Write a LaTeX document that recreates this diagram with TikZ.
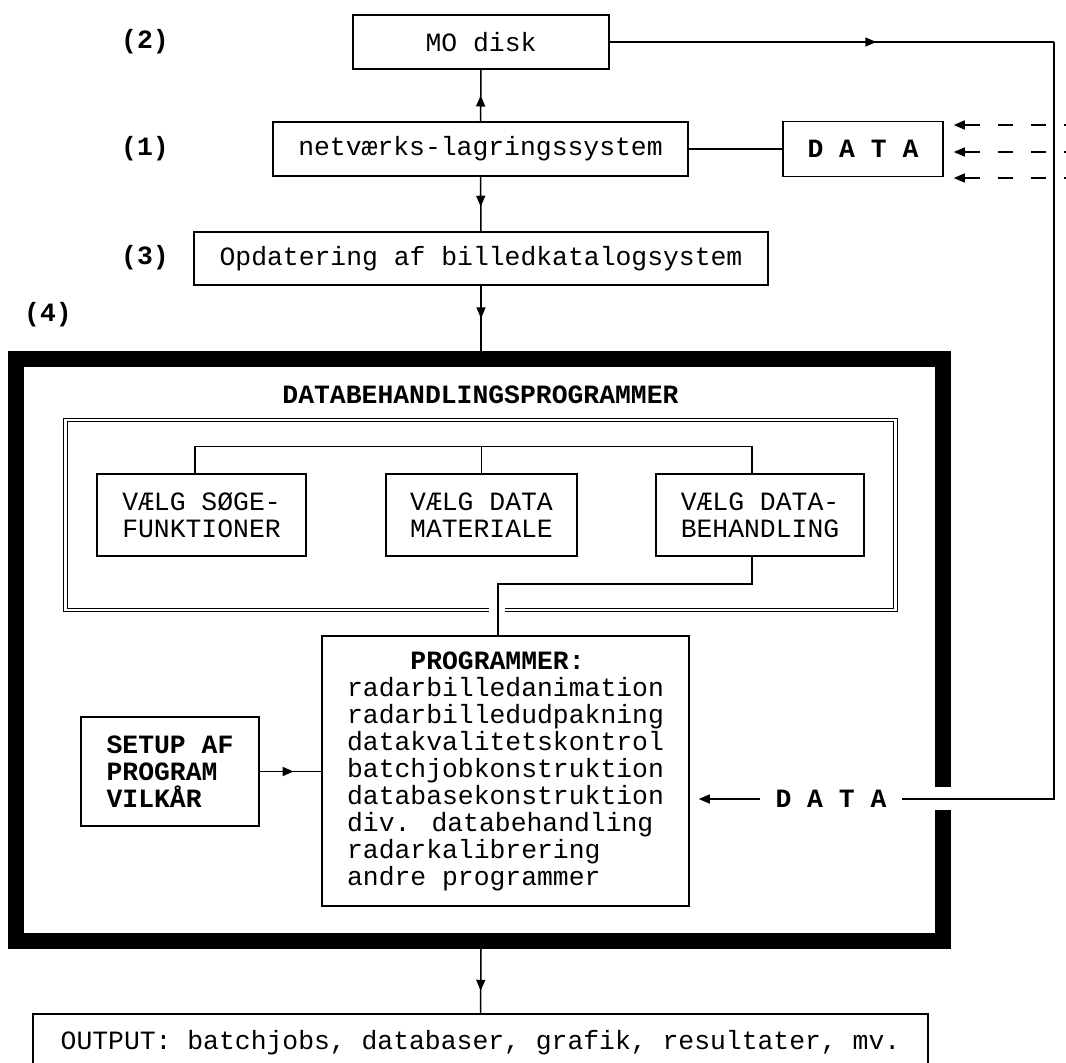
\documentclass[tikz,border=0pt]{standalone}
\usepackage{fontspec}
\setmainfont{Liberation Mono}
\usetikzlibrary{arrows.meta,decorations.markings}

\tikzset{
  txt/.style={font=\fontsize{26.4}{27}\selectfont},
  bftxt/.style={font=\fontsize{26.4}{27}\selectfont\bfseries},
  box/.style={draw, inner sep=0pt, align=center},
  tip/.style={-{Triangle[length=11pt,width=9pt]}},
  midarrow/.style={postaction={decorate}, decoration={markings, mark=at position #1 with {\arrow{Triangle[length=11pt,width=9pt]}}}},
  midarrow/.default=0.5,
  dashin/.style={tip, dash pattern=on 15pt off 18pt, shorten >=10pt}
}

\begin{document}
\begin{tikzpicture}[x=1pt,y=-1pt,line width=1.5pt,every node/.style={txt}]
\useasboundingbox (0,0) rectangle (1066,1063);
\node[bftxt] (l2) at (145,42) {(2)};
\node[bftxt] (l1) at (145,149) {(1)};
\node[bftxt] (l3) at (145,258) {(3)};
\node[bftxt] (l4) at (48,315) {(4)};
\node[box, minimum width=256pt, minimum height=54pt] (mo) at (481,42) {MO disk};
\node[box, minimum width=415pt, minimum height=54pt] (netv) at (480.5,149) {netværks-lagringssystem};
\node[box, bftxt, minimum width=160pt, minimum height=55pt] (dat) at (863,149) {D A T A};
\node[box, minimum width=574pt, minimum height=53pt] (opd) at (481,258.5) {Opdatering af billedkatalogsystem};
\coordinate (ftop) at (481,351);
\coordinate (fbot) at (481,949);
\coordinate (rc) at (1054,42);
\coordinate (in1) at (1079,125);
\coordinate (in2) at (1079,152);
\coordinate (in3) at (1079,178);
\draw[line width=16pt, line join=miter] (943,787) -- (943,359) -- (16,359) -- (16,941) -- (943,941) -- (943,810);
\node[bftxt] (titel) at (480.5,395) {DATABEHANDLINGSPROGRAMMER};
\node[draw, double, double distance=2.5pt, line width=1pt, minimum width=830pt, minimum height=190pt] (grp) at (480.5,515) {};
\fill[white] (489,604) rectangle (505,616);
\node[box, minimum width=209pt, minimum height=82pt] (soeg) at (201.5,515) {VÆLG SØGE-\\FUNKTIONER};
\node[box, minimum width=191pt, minimum height=82pt] (mat) at (481.5,515) {VÆLG DATA\\MATERIALE};
\node[box, minimum width=208pt, minimum height=82pt] (beh) at (760,515) {VÆLG DATA-\\BEHANDLING};
\node[box, align=left, minimum width=367pt, minimum height=270pt] (prog) at (505.5,771) {\hspace*{2.4em}\textbf{PROGRAMMER:}\\radarbilledanimation\\radarbilledudpakning\\datakvalitetskontrol\\batchjobkonstruktion\\databasekonstruktion\\div. databehandling\\radarkalibrering\\andre programmer};
\node[box, bftxt, align=left, minimum width=178pt, minimum height=109pt] (setup) at (170,771.5) {SETUP AF\\PROGRAM\\VILKÅR};
\node[bftxt, inner xsep=15pt, inner ysep=2pt] (datlbl) at (831,799) {D A T A};
\node[box, minimum width=895pt, minimum height=58pt] (out) at (480.5,1043) {OUTPUT: batchjobs, databaser, grafik, resultater, mv.};
\draw[midarrow] (netv.north) -- (mo.south);
\draw[midarrow=0.55] (netv.south) -- (opd.north);
\draw[midarrow=0.5] (opd.south) -- (ftop);
\draw[midarrow=0.65] (fbot) -- (out.north);
\draw (netv) -- (dat);
\draw[midarrow=0.6] (mo.east) -- (rc);
\draw (rc) |- (datlbl.east);
\draw[tip, shorten >=9pt] (datlbl.west) -- (datlbl.west -| prog.east);
\draw[midarrow=0.55] (setup.east) -- (setup.east -| prog.west);
\draw[dashin] (in1) -- (in1 -| dat.east);
\draw[dashin] (in2) -- (in2 -| dat.east);
\draw[dashin] (in3) -- (in3 -| dat.east);
\draw ([xshift=-6.5pt]soeg.north) -- ++(0,-27) -| ([xshift=-8pt]beh.north);
\draw (mat.north) -- ++(0,-27);
\draw ([xshift=-8pt]beh.south) -- ++(0,27) -| ([xshift=-7.5pt]prog.north);
\end{tikzpicture}
\end{document}
